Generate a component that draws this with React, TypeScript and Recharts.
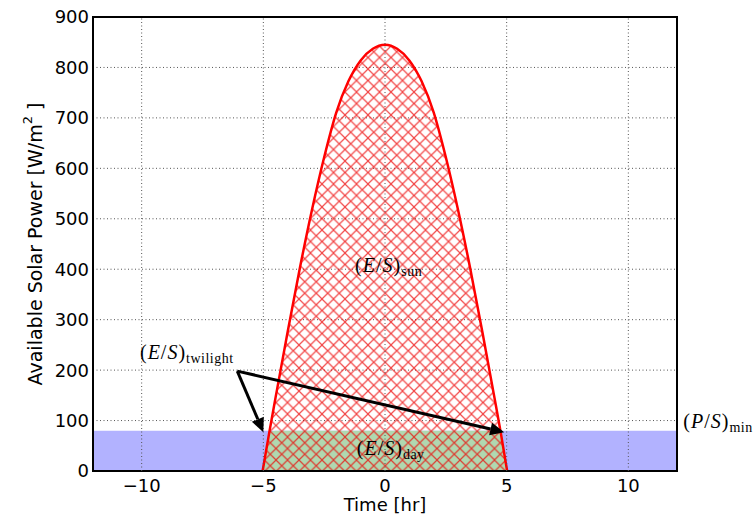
import React from 'react'
import {
  ComposedChart,
  Area,
  XAxis,
  YAxis,
  CartesianGrid,
  ReferenceLine,
  ReferenceDot,
  ReferenceArea,
  Label,
} from 'recharts'

// time of day [hr] and the power [W/m^2]
const hours = [-12, -5.03, -4.75, -4.5, -4, -3.5, -3, -2.5, -2, -1.5, -1, -0.5, 0, 0.5, 1, 1.5, 2, 2.5, 3, 3.5, 4, 4.5, 4.75, 5.02, 12]
const sunPower = [null, 0, 78, 145, 276, 402, 518, 622, 711, 773, 814, 837, 845, 837, 814, 773, 711, 622, 518, 402, 276, 145, 78, 0, null]
const dayPower = [null, 0, 78, 80, 80, 80, 80, 80, 80, 80, 80, 80, 80, 80, 80, 80, 80, 80, 80, 80, 80, 80, 78, 0, null]
const minPower = [80, 80, 80, 80, 80, 80, 80, 80, 80, 80, 80, 80, 80, 80, 80, 80, 80, 80, 80, 80, 80, 80, 80, 80, 80]

const xTicks = [-10, -5, 0, 5, 10]
const yTicks = [0, 100, 200, 300, 400, 500, 600, 700, 800, 900]

// annotation arrows: shared tail, two heads
const arrowTail = { x: -6.07, y: 198 }
const arrowHeads = [
  { x: -5.0, y: 77 },
  { x: 4.9, y: 77 },
]

const data = hours.map((t, i) => ({
  t,
  sun: sunPower[i],
  day: dayPower[i],
  min: minPower[i],
}))

const mathFont = '"Liberation Serif", serif'
const sansFont = '"DejaVu Sans", sans-serif'

function MathLabel({ cx, cy, main, sub }: any) {
  const [a, b] = main
  return (
    <text x={cx} y={cy} fontFamily={mathFont} fontSize={20} fill="#000" letterSpacing={1}>
      <tspan>(</tspan>
      <tspan fontStyle="italic">{a}</tspan>
      <tspan>/</tspan>
      <tspan fontStyle="italic">{b}</tspan>
      <tspan>)</tspan>
      <tspan fontSize={14} dy={4} letterSpacing={0.5}>{sub}</tspan>
    </text>
  )
}

function ArrowShape(props: any) {
  const { x1, y1, x2, y2 } = props
  const dx = x2 - x1
  const dy = y2 - y1
  const len = Math.hypot(dx, dy) || 1
  const ux = dx / len
  const uy = dy / len
  const head = 14
  const half = 6.5
  const bx = x2 - ux * head
  const by = y2 - uy * head
  const pts = `${x2},${y2} ${bx - uy * half},${by + ux * half} ${bx + uy * half},${by - ux * half}`
  return (
    <g>
      <line x1={x1} y1={y1} x2={bx} y2={by} stroke="#000" strokeWidth={3} />
      <polygon points={pts} fill="#000" />
    </g>
  )
}

const minus = (v: number) => String(v).replace('-', '\u2212')

export default function App() {
  return (
    <div style={{ position: 'absolute', left: 0, top: 0 }}>
      <ComposedChart width={756} height={521} data={data} margin={{ top: 17, right: 79, bottom: 0, left: 0 }}>
        <defs>
          <pattern id="hatch" patternUnits="userSpaceOnUse" width={11.5} height={11.5}>
            <path d="M0,0 L11.5,11.5 M11.5,0 L0,11.5" stroke="#ee0000" strokeOpacity={0.72} strokeWidth={1.2} />
          </pattern>
        </defs>
        <CartesianGrid vertical={false} stroke="#555" strokeDasharray="1 2.5" />
        <XAxis
          dataKey="t"
          type="number"
          domain={[-12, 12]}
          ticks={xTicks}
          interval={0}
          tickFormatter={minus}
          tickLine={false}
          axisLine={false}
          tickSize={0}
          tickMargin={8}
          height={50}
          tick={{ fontSize: 18, fill: '#000', fontFamily: sansFont }}
        >
          <Label
            content={({ viewBox }: any) => (
              <text x={viewBox.x + viewBox.width / 2} y={viewBox.y + 40} textAnchor="middle" fontSize={18} fontFamily={sansFont} fill="#000">
                Time [hr]
              </text>
            )}
          />
        </XAxis>
        <YAxis
          type="number"
          domain={[0, 900]}
          ticks={yTicks}
          interval={0}
          width={93}
          tickLine={false}
          axisLine={false}
          tickSize={0}
          tickMargin={4}
          tick={{ fontSize: 18, fill: '#000', fontFamily: sansFont }}
        >
          <Label
            content={({ viewBox }: any) => {
              const x = viewBox.x + 35
              const y = viewBox.y + viewBox.height / 2
              return (
                <text x={x} y={y} transform={`rotate(-90, ${x}, ${y})`} textAnchor="middle" dominantBaseline="central" fontSize={19} fontFamily={sansFont} fill="#000">
                  Available Solar Power [W/m
                  <tspan fontSize={13} dy={-8}>2</tspan>
                  <tspan dy={8}> ]</tspan>
                </text>
              )
            }}
          />
        </YAxis>

        <Area dataKey="min" type="linear" fill="#b2b2ff" fillOpacity={1} stroke="none" isAnimationActive={false} />
        <Area dataKey="day" type="linear" fill="#b0d8b0" fillOpacity={1} stroke="none" isAnimationActive={false} />
        <Area dataKey="sun" type="monotone" fill="url(#hatch)" fillOpacity={1} stroke="#ff0000" strokeWidth={2.5} isAnimationActive={false} />

        {xTicks.map((x) => (
          <ReferenceLine key={x} x={x} stroke="#555" strokeDasharray="1 2.5" />
        ))}

        {arrowHeads.map((h, i) => (
          <ReferenceLine
            key={'arrow' + i}
            segment={[arrowTail, h]}
            ifOverflow="visible"
            shape={ArrowShape}
          />
        ))}

        <ReferenceDot x={-1.23} y={395} ifOverflow="visible" shape={(p: any) => <MathLabel cx={p.cx} cy={p.cy} main={['E', 'S']} sub="sun" />} />
        <ReferenceDot x={-10.07} y={222} ifOverflow="visible" shape={(p: any) => <MathLabel cx={p.cx} cy={p.cy} main={['E', 'S']} sub="twilight" />} />
        <ReferenceDot x={-1.16} y={31} ifOverflow="visible" shape={(p: any) => <MathLabel cx={p.cx} cy={p.cy} main={['E', 'S']} sub="day" />} />
        <ReferenceDot x={12.26} y={85} ifOverflow="visible" shape={(p: any) => <MathLabel cx={p.cx} cy={p.cy} main={['P', 'S']} sub="min" />} />

        <ReferenceArea x1={-12} x2={12} y1={0} y2={900} fill="none" stroke="#000" strokeWidth={2} ifOverflow="visible" />
      </ComposedChart>
    </div>
  )
}
